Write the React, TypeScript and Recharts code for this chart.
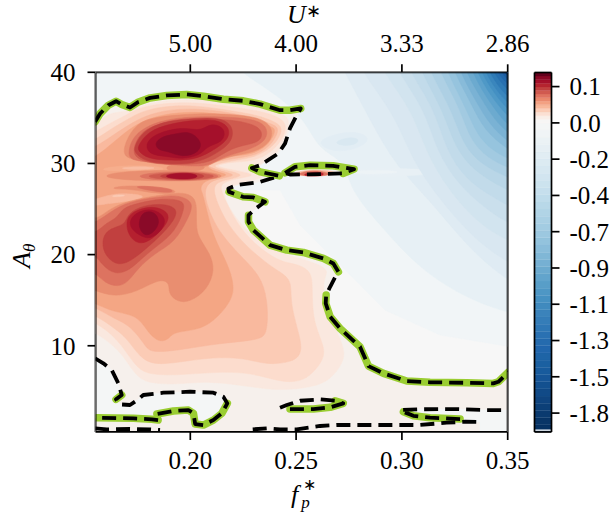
import { Bar, BarChart, Label, Scatter, ScatterChart, XAxis, YAxis } from "recharts"

// axis ticks
const fpTicks = [0.2, 0.25, 0.3, 0.35]
const uLabels = ["5.00", "4.00", "3.33", "2.86"]
const aTicks = [10, 20, 30, 40]

// colorbar
const cbLabels = ["-1.8", "-1.5", "-1.3", "-1.1", "-0.9", "-0.7", "-0.4", "-0.2", "0.0", "0.1"]
const cbTickPos = [2.63, 7.68, 12.72, 17.77, 22.81, 27.86, 32.9, 37.95, 42.99, 48.04]
const cbColors = [
  "#053061", "#ffffff", "#063263", "#083567", "#0a3a6f", "#0c3f77", "#0f447f", "#114a87", "#13508f", "#165597",
  "#185b9d", "#1b60a1", "#1e64a6", "#2166ac", "#256bae", "#2a71b2", "#2f77b5", "#357db8", "#3b83bb", "#408abe",
  "#4691c2", "#4e97c5", "#589ec8", "#62a4cc", "#6caacf", "#76b0d3", "#80b7d6", "#8abdda", "#93c3dd", "#9cc8e0",
  "#a3cce2", "#aad0e4", "#b1d4e6", "#b8d8e8", "#bfdceb", "#c6dfed", "#cce3ee", "#d2e5f0", "#d7e8f1", "#dcebf2",
  "#e1edf3", "#e6eff4", "#ebf2f5", "#f0f4f6", "#f4f6f6", "#f7f6f5", "#f9efe9", "#fbe0d3", "#fbcdb7", "#f8b89b",
  "#f3a182", "#ea8a6e", "#df7360", "#d05a4f", "#c1413f", "#b5242f", "#a5102a", "#8a0826", "#63001d",
]
const cbSteps = [
  0.2, 0.17, 0.63, 1, 1, 1, 1, 1, 1, 1, 1, 1, 1, 1, 1, 1, 1, 1, 1, 1, 1, 1, 1, 1, 1, 1, 1, 1, 1, 1, 1, 1, 1, 1, 1, 1, 1, 1, 1, 1, 1, 1, 1,
  1, 1, 0.5, 0.5, 0.5, 0.5, 0.5, 0.5, 0.5, 0.5, 0.5, 0.5, 0.5, 0.5, 0.5, 0.5,
]

// field colours
const cPlot = "#f7f7f7"
const cZero = "#f6f0ec"
const cHole = "#f4f6f6"
const reds = ["#fae8df", "#fcdccd", "#fbcbb5", "#f9b99e", "#f4a684", "#e98e70", "#dd7360", "#cf5a4e", "#c1403f", "#b5202f", "#a5102b", "#8a0a28"]

// contours [fp, A]
const contourMain = [
  [0.155, 34.56], [0.1574, 35.48], [0.1613, 36.39], [0.1649, 36.83], [0.1676, 36.47], [0.1715, 36.14], [0.1755, 36.75], [0.181, 37.19], [0.1889, 37.46],
  [0.1983, 37.57], [0.2062, 37.38], [0.2156, 37.05], [0.2251, 36.87], [0.233, 36.51], [0.2424, 35.84], [0.2471, 35.84], [0.2522, 36.03], [0.2503, 35.3],
  [0.2471, 33.84], [0.2448, 32.2], [0.2416, 31.1], [0.233, 29.8], [0.2291, 29.5], [0.233, 29.08], [0.2421, 28.64], [0.233, 27.98], [0.222, 27.62],
  [0.218, 27.26], [0.2183, 26.88], [0.2249, 26.34], [0.2298, 26.27], [0.2353, 25.79], [0.2306, 25.0], [0.2275, 24.33], [0.2275, 23.6], [0.2298, 22.69],
  [0.2377, 21.04], [0.2456, 20.49], [0.2534, 20.24], [0.2629, 19.58], [0.2676, 19.03], [0.27, 18.11], [0.2684, 17.5], [0.2661, 16.47], [0.2642, 15.56],
  [0.264, 14.65], [0.2661, 13.18], [0.2708, 11.9], [0.2802, 9.89], [0.2826, 8.62], [0.2842, 7.77], [0.2913, 6.97], [0.3023, 6.13], [0.3133, 5.99],
  [0.3307, 5.94], [0.3432, 5.87], [0.3456, 6.05], [0.3505, 7.15],
]
const contourLeft = [
  [0.155, 8.62], [0.1589, 8.07], [0.1629, 7.33], [0.166, 5.87], [0.1676, 4.6], [0.1649, 4.12], [0.1668, 3.57], [0.1715, 3.5], [0.175, 4.05], [0.1778, 4.6],
  [0.1873, 4.85], [0.1999, 4.96], [0.2109, 4.85], [0.2156, 4.41], [0.2175, 3.68], [0.2149, 2.59], [0.2109, 1.85], [0.2062, 1.3], [0.2023, 1.41], [0.2015, 2.59],
  [0.1991, 2.95], [0.192, 2.84], [0.1842, 2.51], [0.1848, 1.85], [0.1818, 1.93], [0.1731, 2.04], [0.1558, 2.11],
]
const contourBottomA = [[0.155, 0.94], [0.1605, 0.83], [0.1715, 0.87], [0.181, 0.83], [0.1857, 0.76]]
const contourBottomB = [
  [0.2295, 0.83], [0.2361, 0.94], [0.2424, 0.83], [0.2503, 0.83], [0.2613, 1.2], [0.2692, 1.31], [0.2897, 1.31], [0.3086, 1.31], [0.3212, 1.56], [0.3299, 1.67], [0.3369, 1.63],
]
const contourRight = [[0.3275, 1.96], [0.3133, 2.11], [0.3054, 2.32], [0.3007, 2.76], [0.2995, 2.95], [0.3086, 3.03], [0.3243, 3.06], [0.3401, 2.95], [0.3505, 2.95]]
const contourIsle = [[0.2424, 3.2], [0.2456, 3.5], [0.2519, 3.97], [0.2613, 4.12], [0.2684, 3.97], [0.2723, 3.68], [0.2661, 3.25], [0.2582, 3.06], [0.2471, 3.06]]
const contourSliver = [[0.2448, 28.97], [0.2495, 29.63], [0.2566, 29.81], [0.2675, 29.74], [0.2774, 29.38], [0.2722, 28.91], [0.2613, 28.83], [0.2471, 28.79], [0.2448, 28.97]]

// plot frame
const plotBox = [[0.14, -3], [0.36, -3], [0.36, 45], [0.14, 45]]
const frame = [[0.1552, 0.54], [0.35, 0.54], [0.35, 40], [0.1552, 40]]

// blue field
const blue1 = [[0.1479, 41.33], [0.3606, 41.33], [0.3606, 9.53], [0.318, 11.17], [0.2921, 13.91], [0.2732, 18.3], [0.2519, 23.23], [0.2424, 27.07], [0.1479, 27.07]]
const blue2 = [[0.2212, 41.33], [0.2235, 40.01], [0.2377, 38.04], [0.2542, 34.97], [0.2604, 31.46], [0.2732, 30.36], [0.2755, 27.07], [0.2897, 23.23], [0.3086, 18.3], [0.3322, 15.01], [0.3497, 13.69], [0.3559, 13.37], [0.3748, 45.71]]
const blue3 = [[0.2698, 41.33], [0.2732, 40], [0.285, 34.75], [0.2968, 29.8], [0.3133, 25.98], [0.3322, 20.49], [0.3497, 17.2], [0.3559, 16.66], [0.3748, 45.71]]
const arcA = [[0.2802, 41.33], [0.2812, 40], [0.2968, 35.3], [0.3048, 30.36], [0.318, 25.98], [0.3346, 21.59], [0.3497, 19.18], [0.3559, 18.63], [0.3748, 45.71]]
const arcB = [[0.2902, 41.33], [0.2911, 40], [0.3048, 35.84], [0.311, 31.46], [0.3218, 27.07], [0.3369, 23.23], [0.3497, 21.59], [0.3559, 21.04], [0.3748, 45.71]]
const arcC = [[0.2973, 41.33], [0.2982, 40], [0.311, 35.84], [0.3162, 31.46], [0.3266, 27.62], [0.3417, 24.66], [0.3497, 23.56], [0.3559, 23.01], [0.3748, 45.71]]
const arcD = [[0.3029, 41.33], [0.3039, 40], [0.3157, 35.84], [0.3209, 31.46], [0.3303, 28.17], [0.344, 26.19], [0.3497, 25.43], [0.3559, 24.88], [0.3748, 45.71]]
const arcE = [[0.3081, 41.33], [0.3091, 40], [0.3195, 35.84], [0.3251, 31.68], [0.3346, 29.05], [0.3497, 27.07], [0.3559, 26.52], [0.3748, 45.71]]
const arcF = [[0.3124, 41.33], [0.3133, 40], [0.3237, 35.84], [0.3289, 32.01], [0.3379, 29.81], [0.3497, 28.5], [0.3559, 27.95], [0.3748, 45.71]]
const arcG = [[0.3171, 41.33], [0.318, 40], [0.3275, 36.06], [0.3322, 32.55], [0.3407, 30.58], [0.3497, 29.59], [0.3559, 29.05], [0.3748, 45.71]]
const arcH = [[0.3204, 41.33], [0.3214, 40], [0.3303, 36.06], [0.3355, 33.1], [0.3426, 31.46], [0.3497, 30.58], [0.3559, 30.03], [0.3748, 45.71]]
const arcI = [[0.3237, 41.33], [0.3247, 40], [0.3332, 36.39], [0.3388, 33.65], [0.3497, 31.57], [0.3559, 30.91], [0.3748, 45.71]]
const arcJ = [[0.3266, 41.33], [0.3275, 40], [0.3355, 36.61], [0.3417, 34.2], [0.3497, 32.44], [0.3559, 31.68], [0.3748, 45.71]]
const arcK = [[0.3294, 41.33], [0.3303, 40], [0.3379, 36.94], [0.344, 34.75], [0.3497, 33.43], [0.3559, 32.55], [0.3748, 45.71]]
const arcL = [[0.3322, 41.33], [0.3332, 40], [0.3398, 37.27], [0.3464, 35.19], [0.3497, 34.31], [0.3559, 33.43], [0.3748, 45.71]]
const arcM = [[0.3346, 41.33], [0.3355, 40], [0.3417, 37.49], [0.3497, 35.19], [0.3559, 34.2], [0.3748, 45.71]]
const arcN = [[0.3365, 41.33], [0.3374, 40], [0.3436, 37.71], [0.3497, 35.95], [0.3559, 34.97], [0.3748, 45.71]]
const arcO = [[0.3384, 41.33], [0.3393, 40], [0.345, 37.93], [0.3497, 36.72], [0.3559, 35.84], [0.3748, 45.71]]
const arcP = [[0.3403, 41.33], [0.3412, 40], [0.3464, 38.26], [0.3497, 37.38], [0.3559, 36.5], [0.3748, 45.71]]
const arcQ = [[0.3421, 41.33], [0.3431, 40], [0.3497, 38.04], [0.3559, 37.16], [0.3748, 45.71]]
const arcR = [[0.344, 41.33], [0.345, 40], [0.3497, 38.7], [0.3559, 37.82], [0.3748, 45.71]]
const arcS = [[0.3459, 41.33], [0.3469, 40], [0.3497, 39.24], [0.3559, 38.37], [0.3748, 45.71]]
const arcT = [[0.3478, 41.33], [0.3478, 40], [0.3497, 39.68], [0.3559, 39.13], [0.3748, 45.71]]
const blueBlobOuter = [[0.259, 32.23], [0.2661, 33.1], [0.2779, 33.65], [0.2859, 32.77], [0.2802, 31.68], [0.2684, 31.13]]
const blueBlobInner = [[0.2661, 32.23], [0.2755, 33.0], [0.2812, 32.55], [0.2755, 31.79]]
const paleStreak = [[0.2755, 29.27], [0.2897, 29.48], [0.3086, 29.4], [0.3212, 29.05], [0.3086, 28.71], [0.2897, 28.5], [0.2755, 28.72]]
const paleStreakInner = [[0.2765, 29.16], [0.2897, 29.27], [0.3015, 29.05], [0.2897, 28.83], [0.2779, 28.83]]

// zero region and its holes
const zeroRegion = [...contourMain, [0.3559, 7.12], [0.3559, -0.9], [0.1479, -0.9], [0.1479, 34.53]]
const holeLeft = [...contourLeft, [0.1503, 2.07], [0.1503, 8.65]]
const holeRight = [[0.2995, 2.95], [0.3086, 3.03], [0.3243, 3.06], [0.3401, 2.95], [0.3559, 2.95], [0.3559, -0.9], [0.3369, -0.9], [0.3369, 1.63], [0.3299, 1.75], [0.3133, 2.07], [0.3006, 2.73]]

// red field, outer to inner
const red1 = [
  [0.1503, 34.2], [0.155, 34.09], [0.1611, 35.63], [0.1706, 35.63], [0.1786, 36.5], [0.1881, 36.94], [0.2023, 37.05], [0.2164, 36.72], [0.233, 36.17], [0.2443, 35.41], [0.2471, 34.75],
  [0.2453, 33.1], [0.242, 31.24], [0.233, 29.81], [0.2282, 29.27], [0.2386, 28.61], [0.2235, 27.84], [0.2164, 27.29], [0.216, 26.19], [0.2197, 24.66], [0.2249, 23.01], [0.2363, 20.71],
  [0.2505, 19.62], [0.258, 19.18], [0.2661, 18.3], [0.2623, 17.2], [0.2637, 13.91], [0.2684, 12.05], [0.2732, 9.53], [0.2722, 8.1], [0.2661, 6.24], [0.258, 5.47], [0.2424, 5.03],
  [0.2268, 5.58], [0.2079, 6.13], [0.1966, 5.8], [0.1824, 5.8], [0.1748, 6.46], [0.1692, 8.65], [0.1635, 10.08], [0.155, 11.5], [0.1503, 11.61],
]
const red2 = [
  [0.1503, 33.1], [0.155, 33.43], [0.163, 34.53], [0.1706, 35.41], [0.1753, 36.06], [0.1867, 36.61], [0.2023, 36.72], [0.2179, 36.28], [0.2339, 35.73], [0.2434, 34.97], [0.2457, 33.98],
  [0.2434, 32.55], [0.2377, 31.13], [0.2306, 30.25], [0.2179, 30.14], [0.2103, 29.7], [0.2212, 29.27], [0.2292, 28.83], [0.2292, 28.61], [0.2179, 28.17], [0.2141, 27.62], [0.215, 26.85],
  [0.2169, 25.76], [0.2221, 23.45], [0.2296, 21.26], [0.2424, 19.18], [0.2486, 19.07], [0.2576, 18.3], [0.2576, 16.11], [0.258, 12.49], [0.2637, 9.86], [0.2628, 8.43], [0.258, 7.0],
  [0.2519, 6.02], [0.2424, 6.02], [0.2282, 7.11], [0.2108, 7.11], [0.1952, 6.79], [0.181, 6.79], [0.1748, 7.55], [0.1692, 9.53], [0.1635, 11.17], [0.155, 12.6], [0.1503, 12.82],
]
const red3 = [
  [0.1503, 32.34], [0.155, 32.55], [0.163, 33.87], [0.1715, 34.97], [0.1763, 35.63], [0.1867, 36.28], [0.2023, 36.39], [0.2179, 35.84], [0.232, 35.3], [0.2405, 34.53], [0.2438, 33.87],
  [0.2415, 32.55], [0.2368, 31.46], [0.2292, 30.58], [0.2179, 30.25], [0.2084, 29.7], [0.2188, 29.16], [0.2259, 28.72], [0.2188, 28.28], [0.2122, 27.95], [0.2108, 27.07], [0.2131, 25.43],
  [0.2179, 23.23], [0.2259, 21.04], [0.2353, 19.18], [0.2424, 18.08], [0.2481, 17.2], [0.2471, 14.68], [0.2519, 10.96], [0.2528, 9.2], [0.2486, 8.21], [0.2363, 7.88], [0.2259, 8.65],
  [0.2108, 8.76], [0.1952, 8.21], [0.1833, 7.88], [0.1763, 8.65], [0.1701, 10.84], [0.1635, 12.05], [0.155, 13.37], [0.1503, 13.58],
]
const red4 = [
  [0.1503, 31.46], [0.155, 31.79], [0.1621, 32.88], [0.1692, 33.98], [0.1763, 34.97], [0.1867, 35.84], [0.2023, 36.06], [0.2179, 35.63], [0.2306, 34.97], [0.2386, 34.31], [0.2424, 33.87],
  [0.2391, 32.23], [0.232, 30.91], [0.2212, 30.58], [0.2084, 30.03], [0.207, 29.81], [0.2141, 29.16], [0.2226, 28.72], [0.215, 28.39], [0.2093, 28.06], [0.2065, 27.07], [0.2079, 25.43],
  [0.2108, 23.78], [0.215, 22.14], [0.2212, 20.49], [0.2268, 19.18], [0.2344, 17.2], [0.2368, 14.24], [0.2363, 11.39], [0.233, 10.62], [0.2141, 10.3], [0.1952, 9.53], [0.181, 9.2],
  [0.1786, 10.08], [0.1715, 12.27], [0.1635, 13.03], [0.155, 14.24], [0.1503, 14.46],
]
const red5 = [
  [0.1503, 30.36], [0.155, 30.69], [0.1611, 31.79], [0.1692, 33.43], [0.1763, 34.53], [0.1867, 35.41], [0.2023, 35.73], [0.2179, 35.3], [0.2292, 34.64], [0.2377, 34.09], [0.241, 33.76],
  [0.2368, 31.9], [0.2282, 30.91], [0.2197, 30.91], [0.2103, 30.14], [0.207, 29.59], [0.2131, 29.05], [0.2188, 28.72], [0.2117, 28.39], [0.2065, 28.06], [0.2046, 27.29], [0.2056, 26.85],
  [0.207, 25.65], [0.2108, 21.92], [0.2174, 19.18], [0.2212, 16.44], [0.2188, 14.68], [0.2108, 12.6], [0.2032, 11.72], [0.1919, 11.5], [0.1904, 10.84], [0.1857, 10.3], [0.18, 11.39],
  [0.1753, 13.37], [0.1635, 13.69], [0.155, 14.68], [0.1503, 14.9],
]
// upper lobe
const lobeA6 = [[0.1678, 30.8], [0.1696, 32.55], [0.1744, 34.31], [0.1819, 35.08], [0.2023, 35.51], [0.2212, 35.41], [0.2339, 34.97], [0.2391, 33.87], [0.2382, 32.34], [0.2306, 31.24], [0.2212, 30.91], [0.2131, 30.36], [0.2079, 29.59], [0.1999, 29.48], [0.1881, 30.03], [0.1739, 30.36]]
const lobeA7 = [[0.1706, 31.24], [0.173, 33.2], [0.1848, 34.75], [0.2023, 35.19], [0.2212, 35.08], [0.232, 34.75], [0.2368, 33.87], [0.2358, 32.34], [0.2259, 31.35], [0.2179, 30.91], [0.2103, 30.03], [0.207, 29.7], [0.1975, 29.7], [0.181, 30.14], [0.1715, 30.36]]
const lobeA8 = [[0.1725, 31.46], [0.1763, 33.43], [0.1848, 34.42], [0.2023, 34.86], [0.2179, 34.86], [0.2306, 34.31], [0.2344, 33.43], [0.233, 32.23], [0.2212, 31.9], [0.2131, 30.69], [0.207, 29.92], [0.1867, 29.81], [0.1748, 30.36]]
const lobeA9 = [[0.1735, 31.9], [0.1782, 33.75], [0.19, 34.75], [0.2023, 34.95], [0.213, 35.05], [0.22, 34.35], [0.2205, 32.4], [0.2115, 30.95], [0.202, 29.95], [0.1885, 29.95], [0.179, 30.2], [0.1735, 31.15]]
const lobeA10 = [[0.1755, 32.0], [0.18, 33.55], [0.191, 34.4], [0.2023, 34.75], [0.212, 34.85], [0.2185, 34.1], [0.2185, 32.6], [0.2095, 31.25], [0.2015, 30.35], [0.189, 30.35], [0.18, 30.5], [0.175, 31.4]]
const lobeA11 = [[0.1785, 32.2], [0.184, 33.35], [0.1961, 34.0], [0.2037, 33.6], [0.207, 33.95], [0.2108, 34.4], [0.2165, 33.85], [0.216, 32.5], [0.21, 32.0], [0.207, 31.6], [0.2045, 30.9], [0.1961, 30.45], [0.1885, 30.8], [0.1805, 30.95]]
const lobeA12 = [[0.183, 32.4], [0.1885, 33.1], [0.193, 33.2], [0.1994, 33.6], [0.2055, 32.5], [0.2045, 31.2], [0.1961, 30.65], [0.1895, 31.35], [0.1845, 31.45]]
// streaks around A = 28.6
const bridge6 = [[0.1881, 30.03], [0.207, 30.03], [0.2079, 29.16], [0.1881, 28.94]]
const lightA = [[0.1574, 29.48], [0.1706, 29.81], [0.1857, 29.7], [0.1895, 29.27], [0.1739, 29.16], [0.1597, 29.16]]
const lightA2 = [[0.1644, 29.48], [0.1763, 29.7], [0.1867, 29.48], [0.1739, 29.27]]
const stripe6 = [[0.1574, 28.61], [0.1668, 29.1], [0.1857, 29.25], [0.2046, 29.25], [0.2197, 28.61], [0.2046, 28.07], [0.1857, 28.07], [0.1668, 28.2]]
const stripe7 = [[0.1715, 28.61], [0.1857, 29.1], [0.2046, 29.1], [0.2174, 28.61], [0.2046, 28.1], [0.1857, 28.1]]
const stripe8 = [[0.1767, 28.61], [0.1881, 29.0], [0.2046, 29.0], [0.2141, 28.61], [0.2046, 28.2], [0.1881, 28.2]]
const stripe9 = [[0.1824, 28.61], [0.1928, 28.98], [0.2023, 28.98], [0.2084, 28.61], [0.2023, 28.24], [0.1928, 28.24]]
const stripe10 = [[0.1865, 28.61], [0.1932, 28.95], [0.2005, 28.95], [0.2045, 28.61], [0.2005, 28.27], [0.1932, 28.27]]
const darkB6 = [[0.1635, 27.4], [0.1725, 27.62], [0.1928, 27.29], [0.1938, 26.63], [0.1819, 26.74], [0.1725, 27.18], [0.1635, 27.18]]
const darkB7 = [[0.1715, 27.51], [0.1819, 27.51], [0.1919, 27.18], [0.1919, 26.74], [0.1819, 26.96]]
const lightB = [[0.155, 25.98], [0.1644, 26.85], [0.18, 26.52], [0.1753, 25.98], [0.163, 25.65], [0.1503, 25.21], [0.1503, 25.98]]
const lightB2 = [[0.163, 26.52], [0.1687, 26.58], [0.1696, 26.41], [0.163, 26.3]]
// lower lobe
const lobeC6 = [[0.1503, 24.33], [0.1555, 23.78], [0.1611, 24.88], [0.1678, 25.65], [0.1772, 26.19], [0.1857, 26.52], [0.1952, 26.85], [0.2008, 26.52], [0.2032, 25.65], [0.2027, 23.23], [0.2037, 21.92], [0.2093, 20.16], [0.2117, 18.3], [0.2079, 16.11], [0.1999, 14.79], [0.1938, 14.79], [0.1895, 15.78], [0.1904, 16.87], [0.1857, 17.42], [0.1748, 15.89], [0.1635, 15.34], [0.155, 16.11], [0.1503, 16.33]]
const lobeC7 = [[0.1503, 23.45], [0.1555, 23.45], [0.1644, 25.1], [0.1739, 25.98], [0.1881, 26.41], [0.1942, 26.52], [0.2023, 25.76], [0.1985, 23.78], [0.1928, 21.37], [0.1833, 20.16], [0.1753, 18.52], [0.1706, 16.98], [0.1659, 16.44], [0.1597, 16.87], [0.1555, 17.97], [0.1503, 18.08]]
const lobeC8 = [[0.1503, 22.36], [0.1555, 22.36], [0.1607, 23.56], [0.1654, 24.0], [0.1678, 25.1], [0.1753, 25.65], [0.1867, 26.19], [0.1966, 25.98], [0.1975, 25.1], [0.1928, 22.47], [0.1848, 21.04], [0.1772, 19.62], [0.1715, 18.3], [0.1644, 17.75], [0.1583, 18.85], [0.1555, 19.95], [0.1503, 19.95]]
const lobeC9 = [[0.1583, 21.92], [0.1621, 22.91], [0.1692, 23.23], [0.1701, 24.33], [0.1753, 25.21], [0.1848, 25.65], [0.1942, 25.21], [0.1928, 23.78], [0.1848, 21.81], [0.1772, 20.27], [0.1706, 19.07], [0.1644, 18.85], [0.1588, 20.16]]
const lobeC10 = [[0.1696, 23.56], [0.1715, 24.55], [0.1786, 25.21], [0.1848, 25.21], [0.19, 24.55], [0.1895, 23.45], [0.1819, 21.59], [0.1753, 21.04], [0.1706, 22.14]]
const lobeC11 = [[0.1712, 23.01], [0.1717, 24.1], [0.1772, 24.95], [0.1838, 24.95], [0.1886, 24.0], [0.1872, 22.8], [0.1812, 21.6], [0.1758, 22.1]]
const lobeC12 = [[0.1758, 23.78], [0.1778, 24.75], [0.1832, 24.75], [0.186, 23.56], [0.1825, 22.35], [0.1783, 22.0], [0.1758, 22.9]]
// sliver near fp = 0.26
const sliver4 = [[0.2481, 28.94], [0.2566, 29.37], [0.2684, 29.16], [0.2708, 28.72], [0.2495, 28.61]]
const sliver7 = [[0.2509, 28.94], [0.2576, 29.27], [0.2651, 29.05], [0.2661, 28.61], [0.2519, 28.61]]
const sliver10 = [[0.2533, 28.83], [0.259, 29.1], [0.2637, 28.94], [0.2623, 28.61], [0.2543, 28.61]]

const toPoints = (rows: number[][]) => rows.map(([f, A]) => ({ f, A }))
const NoPoint = () => null

const fillLayers: [number[][], string, string][] = [
  [plotBox, cPlot, "linearClosed"],
  [blue1, "#f1f5f7", "linearClosed"],
  [blue2, "#e7f0f5", "basisClosed"],
  [blue3, "#dfebf3", "basisClosed"],
  [blueBlobOuter, "#e2edf4", "basisClosed"],
  [blueBlobInner, "#d9e8f1", "basisClosed"],
  [paleStreak, "#e8f0f5", "basisClosed"],
  [paleStreakInner, "#edf3f6", "basisClosed"],
  [arcA, "#d9e7f1", "basisClosed"],
  [arcB, "#d2e4ef", "basisClosed"],
  [arcC, "#cadfec", "basisClosed"],
  [arcD, "#c2dbea", "basisClosed"],
  [arcE, "#b9d6e7", "basisClosed"],
  [arcF, "#aed0e4", "basisClosed"],
  [arcG, "#a2cae1", "basisClosed"],
  [arcH, "#96c4de", "basisClosed"],
  [arcI, "#88bbd9", "basisClosed"],
  [arcJ, "#7ab2d4", "basisClosed"],
  [arcK, "#6caacf", "basisClosed"],
  [arcL, "#5ea2cc", "basisClosed"],
  [arcM, "#4f99c7", "basisClosed"],
  [arcN, "#4490c3", "basisClosed"],
  [arcO, "#3a86bd", "basisClosed"],
  [arcP, "#2f7bb6", "basisClosed"],
  [arcQ, "#2870b0", "basisClosed"],
  [arcR, "#2267aa", "basisClosed"],
  [arcS, "#1c5ca0", "basisClosed"],
  [arcT, "#174f8f", "basisClosed"],
  [zeroRegion, cZero, "linearClosed"],
  [holeLeft, cHole, "linearClosed"],
  [holeRight, cHole, "linearClosed"],
  [contourSliver, cZero, "linearClosed"],
  [sliver4, reds[3], "basisClosed"],
  [sliver7, reds[6], "basisClosed"],
  [sliver10, reds[9], "basisClosed"],
  [red1, reds[0], "basisClosed"],
  [red2, reds[1], "basisClosed"],
  [red3, reds[2], "basisClosed"],
  [red4, reds[3], "basisClosed"],
  [red5, reds[4], "basisClosed"],
  [bridge6, reds[5], "basisClosed"],
  [lobeA6, reds[5], "basisClosed"],
  [lobeA7, reds[6], "basisClosed"],
  [lobeA8, reds[7], "basisClosed"],
  [lobeA9, reds[8], "basisClosed"],
  [lobeA10, reds[9], "basisClosed"],
  [lobeA11, reds[10], "basisClosed"],
  [lobeA12, reds[11], "basisClosed"],
  [lightA, "#f6ae8d", "basisClosed"],
  [lightA2, "#f9bda3", "basisClosed"],
  [stripe6, reds[5], "basisClosed"],
  [stripe7, reds[6], "basisClosed"],
  [stripe8, reds[7], "basisClosed"],
  [stripe9, reds[8], "basisClosed"],
  [stripe10, reds[10], "basisClosed"],
  [lightB, reds[3], "basisClosed"],
  [lightB2, reds[2], "basisClosed"],
  [lobeC6, reds[5], "basisClosed"],
  [darkB6, reds[5], "basisClosed"],
  [darkB7, reds[6], "basisClosed"],
  [lobeC7, reds[6], "basisClosed"],
  [lobeC8, reds[7], "basisClosed"],
  [lobeC9, reds[8], "basisClosed"],
  [lobeC10, reds[9], "basisClosed"],
  [lobeC11, reds[10], "basisClosed"],
  [lobeC12, reds[11], "basisClosed"],
]

const greenLines = [
  contourMain.slice(0, 17),
  contourMain.slice(22, 25),
  contourMain.slice(28, 32),
  contourMain.slice(33, 42),
  contourMain.slice(44),
  contourLeft.slice(4, 6),
  contourLeft.slice(14, 23),
  contourLeft.slice(23),
  contourRight.slice(0, 4),
  contourIsle.slice(4),
  contourSliver.slice(0, 6),
]
const blackLines = [contourMain, contourLeft, contourBottomA, contourBottomB, contourRight, contourIsle, contourSliver]

const cbRow: Record<string, number | string> = { name: "cb" }
cbSteps.forEach((s, i) => {
  cbRow[`l${i}`] = s
})
const cbData = [cbRow]

const serif = "'Liberation Serif', serif"
const tickStyle = { fontFamily: serif, fontSize: 25, fill: "#000" }
const axisStroke = { stroke: "#000", strokeWidth: 1.7 }

export default function App() {
  return (
    <div style={{ position: "absolute", left: 0, top: 0, width: 614, height: 516 }}>
      <div style={{ position: "absolute", left: 0, top: 0 }}>
        <ScatterChart width={614} height={516} margin={{ left: 35.5, right: 105.3, top: 22.3, bottom: 34 }}>
          <XAxis
            type="number"
            dataKey="f"
            domain={[0.1552, 0.35]}
            allowDataOverflow
            ticks={fpTicks}
            interval={0}
            height={50}
            tick={tickStyle}
            tickFormatter={(v: number) => v.toFixed(2)}
            axisLine={axisStroke}
            tickLine={axisStroke}
            tickSize={8}
            tickMargin={11}
          >
            <Label
              content={() => (
                <text x={291} y={503} fontFamily={serif} fontStyle="italic" fontSize={26} fill="#000">
                  f
                  <tspan dx={3} dy={5} fontSize={17}>p</tspan>
                  <tspan dx={-7} dy={-18.5} fontSize={16} fontStyle="normal">∗</tspan>
                </text>
              )}
            />
          </XAxis>
          <XAxis
            xAxisId="top"
            orientation="top"
            type="number"
            dataKey="f"
            domain={[0.1552, 0.35]}
            allowDataOverflow
            ticks={fpTicks}
            interval={0}
            height={50}
            tick={tickStyle}
            tickFormatter={(_v: number, i: number) => uLabels[i]}
            axisLine={axisStroke}
            tickLine={axisStroke}
            tickSize={8}
            tickMargin={12}
          >
            <Label
              content={() => (
                <text x={287} y={23} fontFamily={serif} fontStyle="italic" fontSize={26} fill="#000">
                  U
                  <tspan dy={-6} fontSize={18} fontStyle="normal">∗</tspan>
                </text>
              )}
            />
          </XAxis>
          <YAxis
            type="number"
            dataKey="A"
            domain={[0.54, 40]}
            allowDataOverflow
            ticks={aTicks}
            interval={0}
            width={60}
            tick={tickStyle}
            axisLine={axisStroke}
            tickLine={axisStroke}
            tickSize={8}
            tickMargin={12}
          >
            <Label
              content={() => (
                <text x={30} y={268} fontFamily={serif} fontStyle="italic" fontSize={26} fill="#000" transform="rotate(-90 30 268)">
                  A
                  <tspan dx={0} dy={5} fontSize={17}>θ</tspan>
                </text>
              )}
            />
          </YAxis>
          <YAxis
            yAxisId="right"
            orientation="right"
            type="number"
            dataKey="A"
            domain={[0.54, 40]}
            allowDataOverflow
            width={1}
            tick={false}
            tickLine={false}
            axisLine={axisStroke}
          />
          {fillLayers.map(([rows, color, curve], i) => (
            <Scatter
              key={`fill-${i}`}
              data={toPoints(rows)}
              fill={color}
              shape={NoPoint}
              line={{ fill: color, stroke: color, strokeWidth: 0.5 }}
              lineType="joint"
              lineJointType={curve as any}
              isAnimationActive={false}
              legendType="none"
            />
          ))}
          {greenLines.map((rows, i) => (
            <Scatter
              key={`green-${i}`}
              data={toPoints(rows)}
              fill="#9acd32"
              shape={NoPoint}
              line={{ fill: "none", stroke: "#9acd32", strokeWidth: 7.5, strokeLinecap: "round", strokeLinejoin: "round" }}
              lineType="joint"
              lineJointType="linear"
              isAnimationActive={false}
              legendType="none"
            />
          ))}
          {blackLines.map((rows, i) => (
            <Scatter
              key={`black-${i}`}
              data={toPoints(rows)}
              fill="#000"
              shape={NoPoint}
              line={{ fill: "none", stroke: "#000", strokeWidth: 3.8, strokeDasharray: "14 7", strokeLinejoin: "round" }}
              lineType="joint"
              lineJointType="linear"
              isAnimationActive={false}
              legendType="none"
            />
          ))}
          <Scatter
            data={toPoints(frame)}
            fill="none"
            shape={NoPoint}
            line={{ fill: "none", stroke: "#000", strokeWidth: 2 }}
            lineType="joint"
            lineJointType="linearClosed"
            isAnimationActive={false}
            legendType="none"
          />
          <Scatter xAxisId="top" yAxisId="right" data={toPoints(frame)} shape={NoPoint} isAnimationActive={false} legendType="none" />
        </ScatterChart>
      </div>
      <div style={{ position: "absolute", left: 520, top: 0 }}>
        <BarChart width={94} height={516} data={cbData} barCategoryGap={0} margin={{ left: 13.5, right: 2.5, top: 71.5, bottom: 83 }}>
          <XAxis dataKey="name" height={1} tick={false} tickLine={false} axisLine={axisStroke} />
          <XAxis xAxisId="top" orientation="top" dataKey="name" height={1} tick={false} tickLine={false} axisLine={axisStroke} />
          <YAxis yAxisId="left" width={1} domain={[0, 50]} allowDataOverflow tick={false} tickLine={false} axisLine={axisStroke} />
          <YAxis
            orientation="right"
            type="number"
            domain={[0, 50]}
            allowDataOverflow
            ticks={cbTickPos}
            interval={0}
            width={60}
            tick={{ ...tickStyle, textAnchor: "start" }}
            tickFormatter={(_v: number, i: number) => cbLabels[i]}
            axisLine={axisStroke}
            tickLine={axisStroke}
            tickSize={8}
            tickMargin={10}
          />
          {cbColors.map((c, i) => (
            <Bar key={c + i} dataKey={`l${i}`} stackId="cb" fill={c} stroke={c} strokeWidth={0.3} isAnimationActive={false} />
          ))}
        </BarChart>
      </div>
    </div>
  )
}
